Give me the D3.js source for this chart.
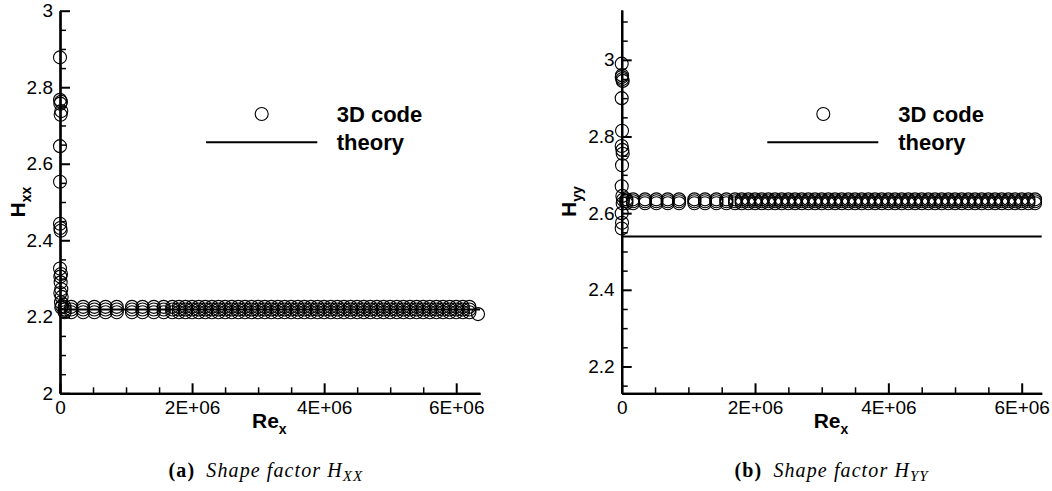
<!DOCTYPE html>
<html>
<head>
<meta charset="utf-8">
<script src="https://cdn.jsdelivr.net/npm/d3@7"></script>
<style>
html, body { margin: 0; padding: 0; background: #fff; }
svg { display: block; }
text { font-family: "Liberation Sans", Arial, Helvetica, sans-serif; fill: #000; }
</style>
</head>
<body>
<svg id="chart" width="1052" height="491"></svg>
<script>
// ---------------- data ----------------
// near-leading-edge points (panel a)
const nearXA = [0, 0, 15000, 5000, 20000, 10000, 0, 0, 0, 5000, 10000, 0, 15000, 5000, 10000, 20000, 5000, 25000, 15000, 30000, 20000];
const nearYA = [2.878, 2.767, 2.762, 2.757, 2.738, 2.728, 2.646, 2.553, 2.443, 2.432, 2.425, 2.326, 2.312, 2.305, 2.29, 2.272, 2.262, 2.252, 2.238, 2.228, 2.224];
// near-leading-edge points (panel b)
const nearXB = [0, 5000, 0, 10000, 15000, 0, 5000, 0, 10000, 15000, 5000, 0, 10000, 20000, 15000, 0, 5000, 0];
const nearYB = [2.99, 2.96, 2.955, 2.95, 2.945, 2.90, 2.815, 2.775, 2.765, 2.755, 2.725, 2.67, 2.645, 2.635, 2.625, 2.60, 2.575, 2.56];
// downstream stations (shared Re_x)
const flatX = [70000, 170000, 350000, 520000, 690000, 860000, 1090000, 1250000,
  1420000, 1570000, 1700000, 1800000, 1900000, 2000000, 2100000, 2200000,
  2300000, 2400000, 2500000, 2600000, 2700000, 2800000, 2900000, 3000000,
  3100000, 3200000, 3300000, 3400000, 3500000, 3600000, 3700000, 3800000,
  3900000, 4000000, 4100000, 4200000, 4300000, 4400000, 4500000, 4600000,
  4700000, 4800000, 4900000, 5000000, 5100000, 5200000, 5300000, 5400000,
  5500000, 5600000, 5700000, 5800000, 5900000, 6000000, 6100000, 6200000];
// panel a: three spanwise cuts at every station
const flatYA1 = [2.226, 2.226, 2.226, 2.226, 2.226, 2.226, 2.226, 2.226,
  2.226, 2.226, 2.226, 2.226, 2.226, 2.226, 2.226, 2.226,
  2.226, 2.226, 2.226, 2.226, 2.226, 2.226, 2.226, 2.226,
  2.226, 2.226, 2.226, 2.226, 2.226, 2.226, 2.226, 2.226,
  2.226, 2.226, 2.226, 2.226, 2.226, 2.226, 2.226, 2.226,
  2.226, 2.226, 2.226, 2.226, 2.226, 2.226, 2.226, 2.226,
  2.226, 2.226, 2.226, 2.226, 2.226, 2.226, 2.226, 2.226];
const flatYA2 = [2.219, 2.219, 2.219, 2.219, 2.219, 2.219, 2.219, 2.219,
  2.219, 2.219, 2.219, 2.219, 2.219, 2.219, 2.219, 2.219,
  2.219, 2.219, 2.219, 2.219, 2.219, 2.219, 2.219, 2.219,
  2.219, 2.219, 2.219, 2.219, 2.219, 2.219, 2.219, 2.219,
  2.219, 2.219, 2.219, 2.219, 2.219, 2.219, 2.219, 2.219,
  2.219, 2.219, 2.219, 2.219, 2.219, 2.219, 2.219, 2.219,
  2.219, 2.219, 2.219, 2.219, 2.219, 2.219, 2.219, 2.219];
const flatYA3 = [2.212, 2.212, 2.212, 2.212, 2.212, 2.212, 2.212, 2.212,
  2.212, 2.212, 2.212, 2.212, 2.212, 2.212, 2.212, 2.212,
  2.212, 2.212, 2.212, 2.212, 2.212, 2.212, 2.212, 2.212,
  2.212, 2.212, 2.212, 2.212, 2.212, 2.212, 2.212, 2.212,
  2.212, 2.212, 2.212, 2.212, 2.212, 2.212, 2.212, 2.212,
  2.212, 2.212, 2.212, 2.212, 2.212, 2.212, 2.212, 2.212,
  2.212, 2.212, 2.212, 2.212, 2.212, 2.212, 2.212, 2.212];
// panel b: three spanwise cuts at every station
const flatYB1 = [2.636, 2.636, 2.636, 2.636, 2.636, 2.636, 2.636, 2.636,
  2.636, 2.636, 2.636, 2.636, 2.636, 2.636, 2.636, 2.636,
  2.636, 2.636, 2.636, 2.636, 2.636, 2.636, 2.636, 2.636,
  2.636, 2.636, 2.636, 2.636, 2.636, 2.636, 2.636, 2.636,
  2.636, 2.636, 2.636, 2.636, 2.636, 2.636, 2.636, 2.636,
  2.636, 2.636, 2.636, 2.636, 2.636, 2.636, 2.636, 2.636,
  2.636, 2.636, 2.636, 2.636, 2.636, 2.636, 2.636, 2.636];
const flatYB2 = [2.631, 2.631, 2.631, 2.631, 2.631, 2.631, 2.631, 2.631,
  2.631, 2.631, 2.631, 2.631, 2.631, 2.631, 2.631, 2.631,
  2.631, 2.631, 2.631, 2.631, 2.631, 2.631, 2.631, 2.631,
  2.631, 2.631, 2.631, 2.631, 2.631, 2.631, 2.631, 2.631,
  2.631, 2.631, 2.631, 2.631, 2.631, 2.631, 2.631, 2.631,
  2.631, 2.631, 2.631, 2.631, 2.631, 2.631, 2.631, 2.631,
  2.631, 2.631, 2.631, 2.631, 2.631, 2.631, 2.631, 2.631];
const flatYB3 = [2.626, 2.626, 2.626, 2.626, 2.626, 2.626, 2.626, 2.626,
  2.626, 2.626, 2.626, 2.626, 2.626, 2.626, 2.626, 2.626,
  2.626, 2.626, 2.626, 2.626, 2.626, 2.626, 2.626, 2.626,
  2.626, 2.626, 2.626, 2.626, 2.626, 2.626, 2.626, 2.626,
  2.626, 2.626, 2.626, 2.626, 2.626, 2.626, 2.626, 2.626,
  2.626, 2.626, 2.626, 2.626, 2.626, 2.626, 2.626, 2.626,
  2.626, 2.626, 2.626, 2.626, 2.626, 2.626, 2.626, 2.626];
const tailXA = [6330000];
const tailYA = [2.207];
// theory values
const theoryXA = [0, 6360000];
const theoryYA = [2.219, 2.219];
const theoryXB = [0, 6300000];
const theoryYB = [2.539, 2.539];
// ticks
const xMajorTicks = [0, 2000000, 4000000, 6000000];
const xMinorTicks = [500000, 1000000, 1500000, 2500000, 3000000, 3500000, 4500000, 5000000, 5500000];
const yMajorTicksA = [2, 2.2, 2.4, 2.6, 2.8, 3];
const yMinorTicksA = [2.05, 2.1, 2.15, 2.25, 2.3, 2.35, 2.45, 2.5, 2.55, 2.65, 2.7, 2.75, 2.85, 2.9, 2.95];
const yMajorTicksB = [2.2, 2.4, 2.6, 2.8, 3];
const yMinorTicksB = [2.15, 2.25, 2.3, 2.35, 2.45, 2.5, 2.55, 2.65, 2.7, 2.75, 2.85, 2.9, 2.95, 3.05, 3.1];
const legendLabels = ["3D code", "theory"];

// ---------------- drawing ----------------
const svg = d3.select("#chart");

const panels = [
  { xDom: [0, 6360000], xRange: [60, 480], yDom: [2, 3], yRange: [393.3, 10.7],
    nearX: nearXA, nearY: nearYA, flatYs: [flatYA1, flatYA2, flatYA3], tailX: tailXA, tailY: tailYA,
    thX: theoryXA, thY: theoryYA, yMaj: yMajorTicksA, yMin: yMinorTicksA,
    ylab: "H", ysub: "xx", ylabX: 25, legX: 261.7, lineX: [206, 317.3], textX: 336.7,
    capX: 266, capTag: "(a)", capSub: "XX" },
  { xDom: [0, 6300000], xRange: [621.7, 1041.7], yDom: [2.13, 3.13], yRange: [393.3, 10],
    nearX: nearXB, nearY: nearYB, flatYs: [flatYB1, flatYB2, flatYB3], tailX: [], tailY: [],
    thX: theoryXB, thY: theoryYB, yMaj: yMajorTicksB, yMin: yMinorTicksB,
    ylab: "H", ysub: "yy", ylabX: 576, legX: 823.3, lineX: [767.3, 878.3], textX: 898.3,
    capX: 831.7, capTag: "(b)", capSub: "YY" }
];

const xFmt = d => d === 0 ? "0" : (d / 1e6) + "E+06";
const yFmt = d => String(d);
const R = 6.5;

panels.forEach(p => {
  const x = d3.scaleLinear().domain(p.xDom).range(p.xRange);
  const y = d3.scaleLinear().domain(p.yDom).range(p.yRange);
  const g = svg.append("g");
  const y0 = p.yRange[0], x0 = p.xRange[0];

  // theory line
  g.append("path")
    .datum(p.thX.map((v, i) => [v, p.thY[i]]))
    .attr("fill", "none").attr("stroke", "#000").attr("stroke-width", 2)
    .attr("d", d3.line().x(d => x(d[0])).y(d => y(d[1])));

  // circles
  const pts = [];
  p.nearX.forEach((v, i) => pts.push([v, p.nearY[i]]));
  p.flatYs.forEach(ys => flatX.forEach((v, i) => { if (ys[i] !== undefined) pts.push([v, ys[i]]); }));
  p.tailX.forEach((v, i) => pts.push([v, p.tailY[i]]));
  g.selectAll("circle.pt").data(pts).enter().append("circle")
    .attr("class", "pt")
    .attr("cx", d => x(d[0])).attr("cy", d => y(d[1])).attr("r", R)
    .attr("fill", "none").attr("stroke", "#000").attr("stroke-width", 1.1);

  // axes (inside ticks)
  const styleAxis = (sel, w) => {
    sel.attr("font-family", null).attr("font-size", null);
    sel.select(".domain").attr("stroke-width", 2.2);
    sel.selectAll(".tick line").attr("stroke-width", w);
    sel.selectAll("text").style("font-family", '"Liberation Sans", Arial, sans-serif')
      .style("font-size", "19px").attr("fill", "#000");
  };
  const xMinG = g.append("g").attr("transform", `translate(0,${y0})`)
    .call(d3.axisBottom(x).tickValues(xMinorTicks).tickSize(-6).tickSizeOuter(0).tickFormat(""));
  styleAxis(xMinG, 1.5);
  const xMajG = g.append("g").attr("transform", `translate(0,${y0})`)
    .call(d3.axisBottom(x).tickValues(xMajorTicks).tickSize(-10).tickSizeOuter(0).tickPadding(7).tickFormat(xFmt));
  styleAxis(xMajG, 2);
  const yMinG = g.append("g").attr("transform", `translate(${x0},0)`)
    .call(d3.axisLeft(y).tickValues(p.yMin).tickSize(-6).tickSizeOuter(0).tickFormat(""));
  styleAxis(yMinG, 1.5);
  const yMajG = g.append("g").attr("transform", `translate(${x0},0)`)
    .call(d3.axisLeft(y).tickValues(p.yMaj).tickSize(-10).tickSizeOuter(0).tickPadding(7).tickFormat(yFmt));
  styleAxis(yMajG, 2);

  // x-axis title
  const xMid = (p.xRange[0] + p.xRange[1]) / 2;
  const xt = g.append("text").attr("x", xMid - 18).attr("y", 428.3)
    .style("font-size", "21px").style("font-weight", "bold");
  xt.append("tspan").text("Re");
  xt.append("tspan").attr("dy", 6).style("font-size", "14px").text("x");

  // y-axis title
  const yMid = (p.yRange[0] + p.yRange[1]) / 2;
  const yt = g.append("text")
    .attr("transform", `translate(${p.ylabX},${yMid}) rotate(-90)`)
    .attr("text-anchor", "middle")
    .style("font-size", "21px").style("font-weight", "bold");
  yt.append("tspan").text(p.ylab);
  yt.append("tspan").attr("dy", 6).style("font-size", "14px").text(p.ysub);

  // legend
  g.append("circle").attr("cx", p.legX).attr("cy", 114).attr("r", R)
    .attr("fill", "none").attr("stroke", "#000").attr("stroke-width", 1.1);
  g.append("line").attr("x1", p.lineX[0]).attr("x2", p.lineX[1])
    .attr("y1", 142.3).attr("y2", 142.3).attr("stroke", "#000").attr("stroke-width", 2);
  g.selectAll("text.leg").data(legendLabels).enter().append("text")
    .attr("class", "leg")
    .attr("x", p.textX).attr("y", (d, i) => 121.7 + i * 28.3)
    .style("font-size", "22px").style("font-weight", "bold").text(d => d);

  // caption
  const ct = g.append("text").attr("x", p.capX).attr("y", 477)
    .attr("text-anchor", "middle")
    .style("font-family", '"Liberation Serif", "DejaVu Serif", serif')
    .style("font-size", "20px").style("letter-spacing", "1.1px");
  ct.append("tspan").style("font-weight", "bold").text(p.capTag);
  ct.append("tspan").style("font-style", "italic").text("\u2002Shape factor ");
  ct.append("tspan").style("font-style", "italic").text("H");
  ct.append("tspan").attr("dy", 4).style("font-style", "italic").style("font-size", "15px").text(p.capSub);
});
</script>
</body>
</html>
